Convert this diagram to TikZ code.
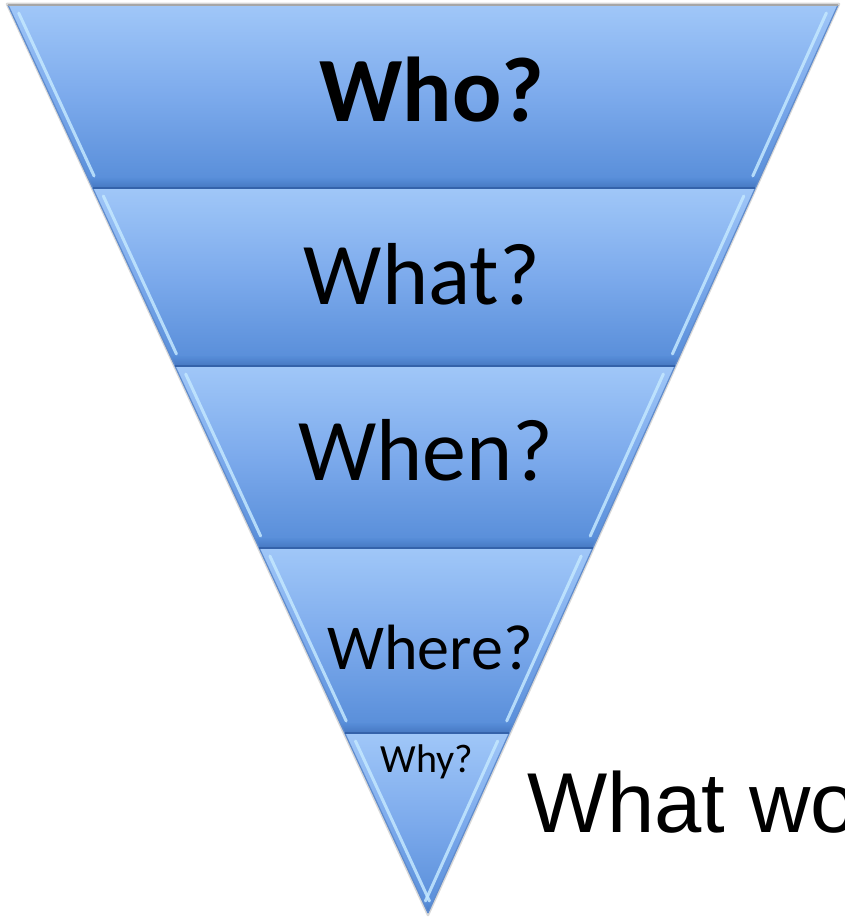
\documentclass[tikz,border=0pt]{standalone}
\usepackage{fontspec}
\setmainfont{Carlito}
\newfontfamily\bodyfont{Liberation Sans}
\definecolor{bandtop}{RGB}{160,199,248}
\definecolor{bandmid}{RGB}{124,170,236}
\definecolor{bandbot}{RGB}{86,140,216}
\definecolor{banddark}{RGB}{52,98,170}
\definecolor{bevel}{RGB}{196,232,255}
\definecolor{rim}{RGB}{96,140,205}
\tikzset{
  label/.style={inner sep=0pt, anchor=base, text=black},
  bandfill/.style={top color=bandtop, bottom color=bandbot, middle color=bandmid},
  bevelline/.style={draw=bevel, line width=3pt, line cap=round, opacity=0.85},
  rimline/.style={draw=rim, line width=1.2pt},
  seam/.style={draw=banddark, line width=2.2pt}
}
\begin{document}
\begin{tikzpicture}[x=1pt,y=-1pt]
\useasboundingbox (0,0) rectangle (844,917);
\clip (0,0) rectangle (844,917);
\fill[white] (0,0) rectangle (844,917);

% soft shadow round the funnel
\draw[gray!60, line width=2.5pt, opacity=0.5, line join=round]
  (7,4) -- (839,4) -- (428,915) -- cycle;

% the five bands of the funnel
\foreach \yt/\yb in {5/188, 188/366, 366/548, 548/733, 733/913} {
  \pgfmathsetmacro\xlt{8+0.46256*(\yt-5)}
  \pgfmathsetmacro\xlb{8+0.46256*(\yb-5)}
  \pgfmathsetmacro\xrt{838-0.45154*(\yt-5)}
  \pgfmathsetmacro\xrb{838-0.45154*(\yb-5)}
  \shade[bandfill] (\xlt,\yt) -- (\xrt,\yt) -- (\xrb,\yb) -- (\xlb,\yb) -- cycle;
  % darker foot of each band
  \shade[top color=bandbot, bottom color=banddark!80!bandbot, opacity=0.6]
    ({\xlb-0.46256*10},{\yb-10}) -- ({\xrb+0.45154*10},{\yb-10}) -- (\xrb,\yb) -- (\xlb,\yb) -- cycle;
  % outer rims
  \draw[rimline] (\xlt,\yt) -- (\xlb,\yb);
  \draw[rimline] (\xrt,\yt) -- (\xrb,\yb);
  % bevel highlights along both sides
  \draw[bevelline] ({\xlt+0.46256*8+7},{\yt+8}) -- ({\xlb-0.46256*12+7},{\yb-12});
  \draw[bevelline] ({\xrt-0.45154*8-8},{\yt+8}) -- ({\xrb+0.45154*12-8},{\yb-12});
}

% seams between the bands
\draw[seam] (92.6,188) -- (755.4,188);
\draw[seam] (175,366) -- (675,366);
\draw[seam] (259.2,548) -- (592.8,548);
\draw[seam] (344.7,733) -- (509.3,733);
\draw[gray!70, line width=1.5pt] (8,5) -- (838,5);

% labels
\node[label] (who) at (432,122) {\fontsize{92}{92}\selectfont\bfseries Who?};
\node[label] (what) at (422,304) {\fontsize{88}{88}\selectfont What?};
\node[label] (when) at (426,480) {\fontsize{88}{88}\selectfont When?};
\node[label] (where) at (430,669) {\fontsize{64}{64}\selectfont Where?};
\node[label] (why) at (427,772) {\fontsize{40}{40}\selectfont Why?};
\node[inner sep=0pt, anchor=base west] (title) at (527,832)
  {\bodyfont\fontsize{85}{85}\selectfont What wo};
\end{tikzpicture}
\end{document}
